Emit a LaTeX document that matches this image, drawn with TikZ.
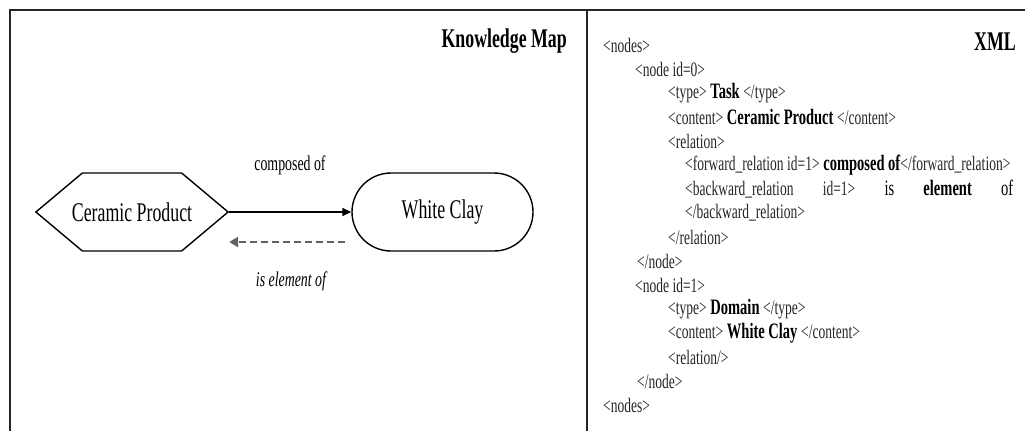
\documentclass[tikz,border=0pt]{standalone}
\usepackage{fontspec}
\setmainfont{Liberation Serif}
\newfontfamily\narrowserif[FakeStretch=0.66]{Liberation Serif}
\usetikzlibrary{arrows.meta,shapes.symbols,shapes.misc,calc}

% XML markup helpers: thin grey tags, bold values
\newcommand\xtag[1]{\textcolor{black!85}{\fontsize{20.5}{22}\selectfont#1}}
\newcommand\xval[1]{\textbf{#1}}

\begin{document}
\begin{tikzpicture}[x=1pt,y=-1pt,
  every node/.style={inner sep=0pt, font=\narrowserif},
  frameline/.style={line width=1.8pt, black!85},
  paneltitle/.style={font=\narrowserif\bfseries\fontsize{27}{30}\selectfont},
  concept/.style={draw, line width=1.4pt, font=\narrowserif\fontsize{27}{30}\selectfont, minimum height=78pt},
  rellabel/.style={font=\narrowserif\fontsize{21}{24}\selectfont},
  fwdarrow/.style={line width=1.4pt, -{Triangle[length=9pt,width=8pt]}},
  bwdarrow/.style={line width=2.8pt, black!62, dash pattern=on 7pt off 4pt, -{Triangle[length=9pt,width=10pt]}},
  xmlline/.style={anchor=west, font=\narrowserif\fontsize{22}{24}\selectfont},
]
\useasboundingbox (0,0) rectangle (1027,431);

% frame and panel divider
\draw[frameline] (10,431) -- (10,10) -- (1025,10);
\draw[frameline] (587,10) -- (587,431);

% ---- knowledge map panel ----
\node[paneltitle, anchor=base east] (kmtitle) at (567,47) {Knowledge Map};

% the label runs past the flat edges of the hexagon, hence the negative x padding
\node[concept, signal, signal to=west and east, signal pointer angle=80,
      inner xsep=-10.5pt] (cp) at (132,212) {Ceramic Product};
\node[concept, rounded rectangle, minimum width=181pt] (wc) at (442.5,212) {White Clay};

\draw[fwdarrow] (cp.east) -- (wc.west);
\coordinate (bwdstart) at ($(wc.west)+(-6,30)$);
\coordinate (bwdend) at ($(cp.east)+(0,30)$);
\draw[bwdarrow] (bwdstart) -- (bwdend);

\node[rellabel] (lblfwd) at (290,165) {composed of};
\node[rellabel, font=\narrowserif\itshape\fontsize{21}{24}\selectfont] (lblbwd) at (291,281) {is element of};

% ---- XML panel ----
\node[paneltitle, anchor=base east] (xmltitle) at (1016,50) {XML};

\node[xmlline] (x0)  at (603,45)  {\xtag{<nodes>}};
\node[xmlline] (x1)  at (635,69)  {\xtag{<node id=0>}};
\node[xmlline] (x2)  at (668,93)  {\xtag{<type>} \xval{Task} \xtag{</type>}};
\node[xmlline] (x3)  at (668,117) {\xtag{<content>} \xval{Ceramic Product} \xtag{</content>}};
\node[xmlline] (x4)  at (668,141) {\xtag{<relation>}};
\node[xmlline] (x5)  at (685,165) {\xtag{<forward\_relation id=1>} \xval{composed of}\xtag{</forward\_relation>}};
\node[xmlline] (x6)  at (685,189) {\hbox to 328pt{\xtag{<backward\_relation}\hfill\xtag{id=1>}\hfill is\hfill\xval{element}\hfill of}};
\node[xmlline] (x7)  at (685,213) {\xtag{</backward\_relation>}};
\node[xmlline] (x8)  at (668,237) {\xtag{</relation>}};
\node[xmlline] (x9)  at (637,261) {\xtag{</node>}};
\node[xmlline] (x10) at (635,285) {\xtag{<node id=1>}};
\node[xmlline] (x11) at (668,309) {\xtag{<type>} \xval{Domain} \xtag{</type>}};
\node[xmlline] (x12) at (668,333) {\xtag{<content>} \xval{White Clay} \xtag{</content>}};
\node[xmlline] (x13) at (668,357) {\xtag{<relation/>}};
\node[xmlline] (x14) at (637,381) {\xtag{</node>}};
\node[xmlline] (x15) at (603,405) {\xtag{<nodes>}};
\end{tikzpicture}
\end{document}
